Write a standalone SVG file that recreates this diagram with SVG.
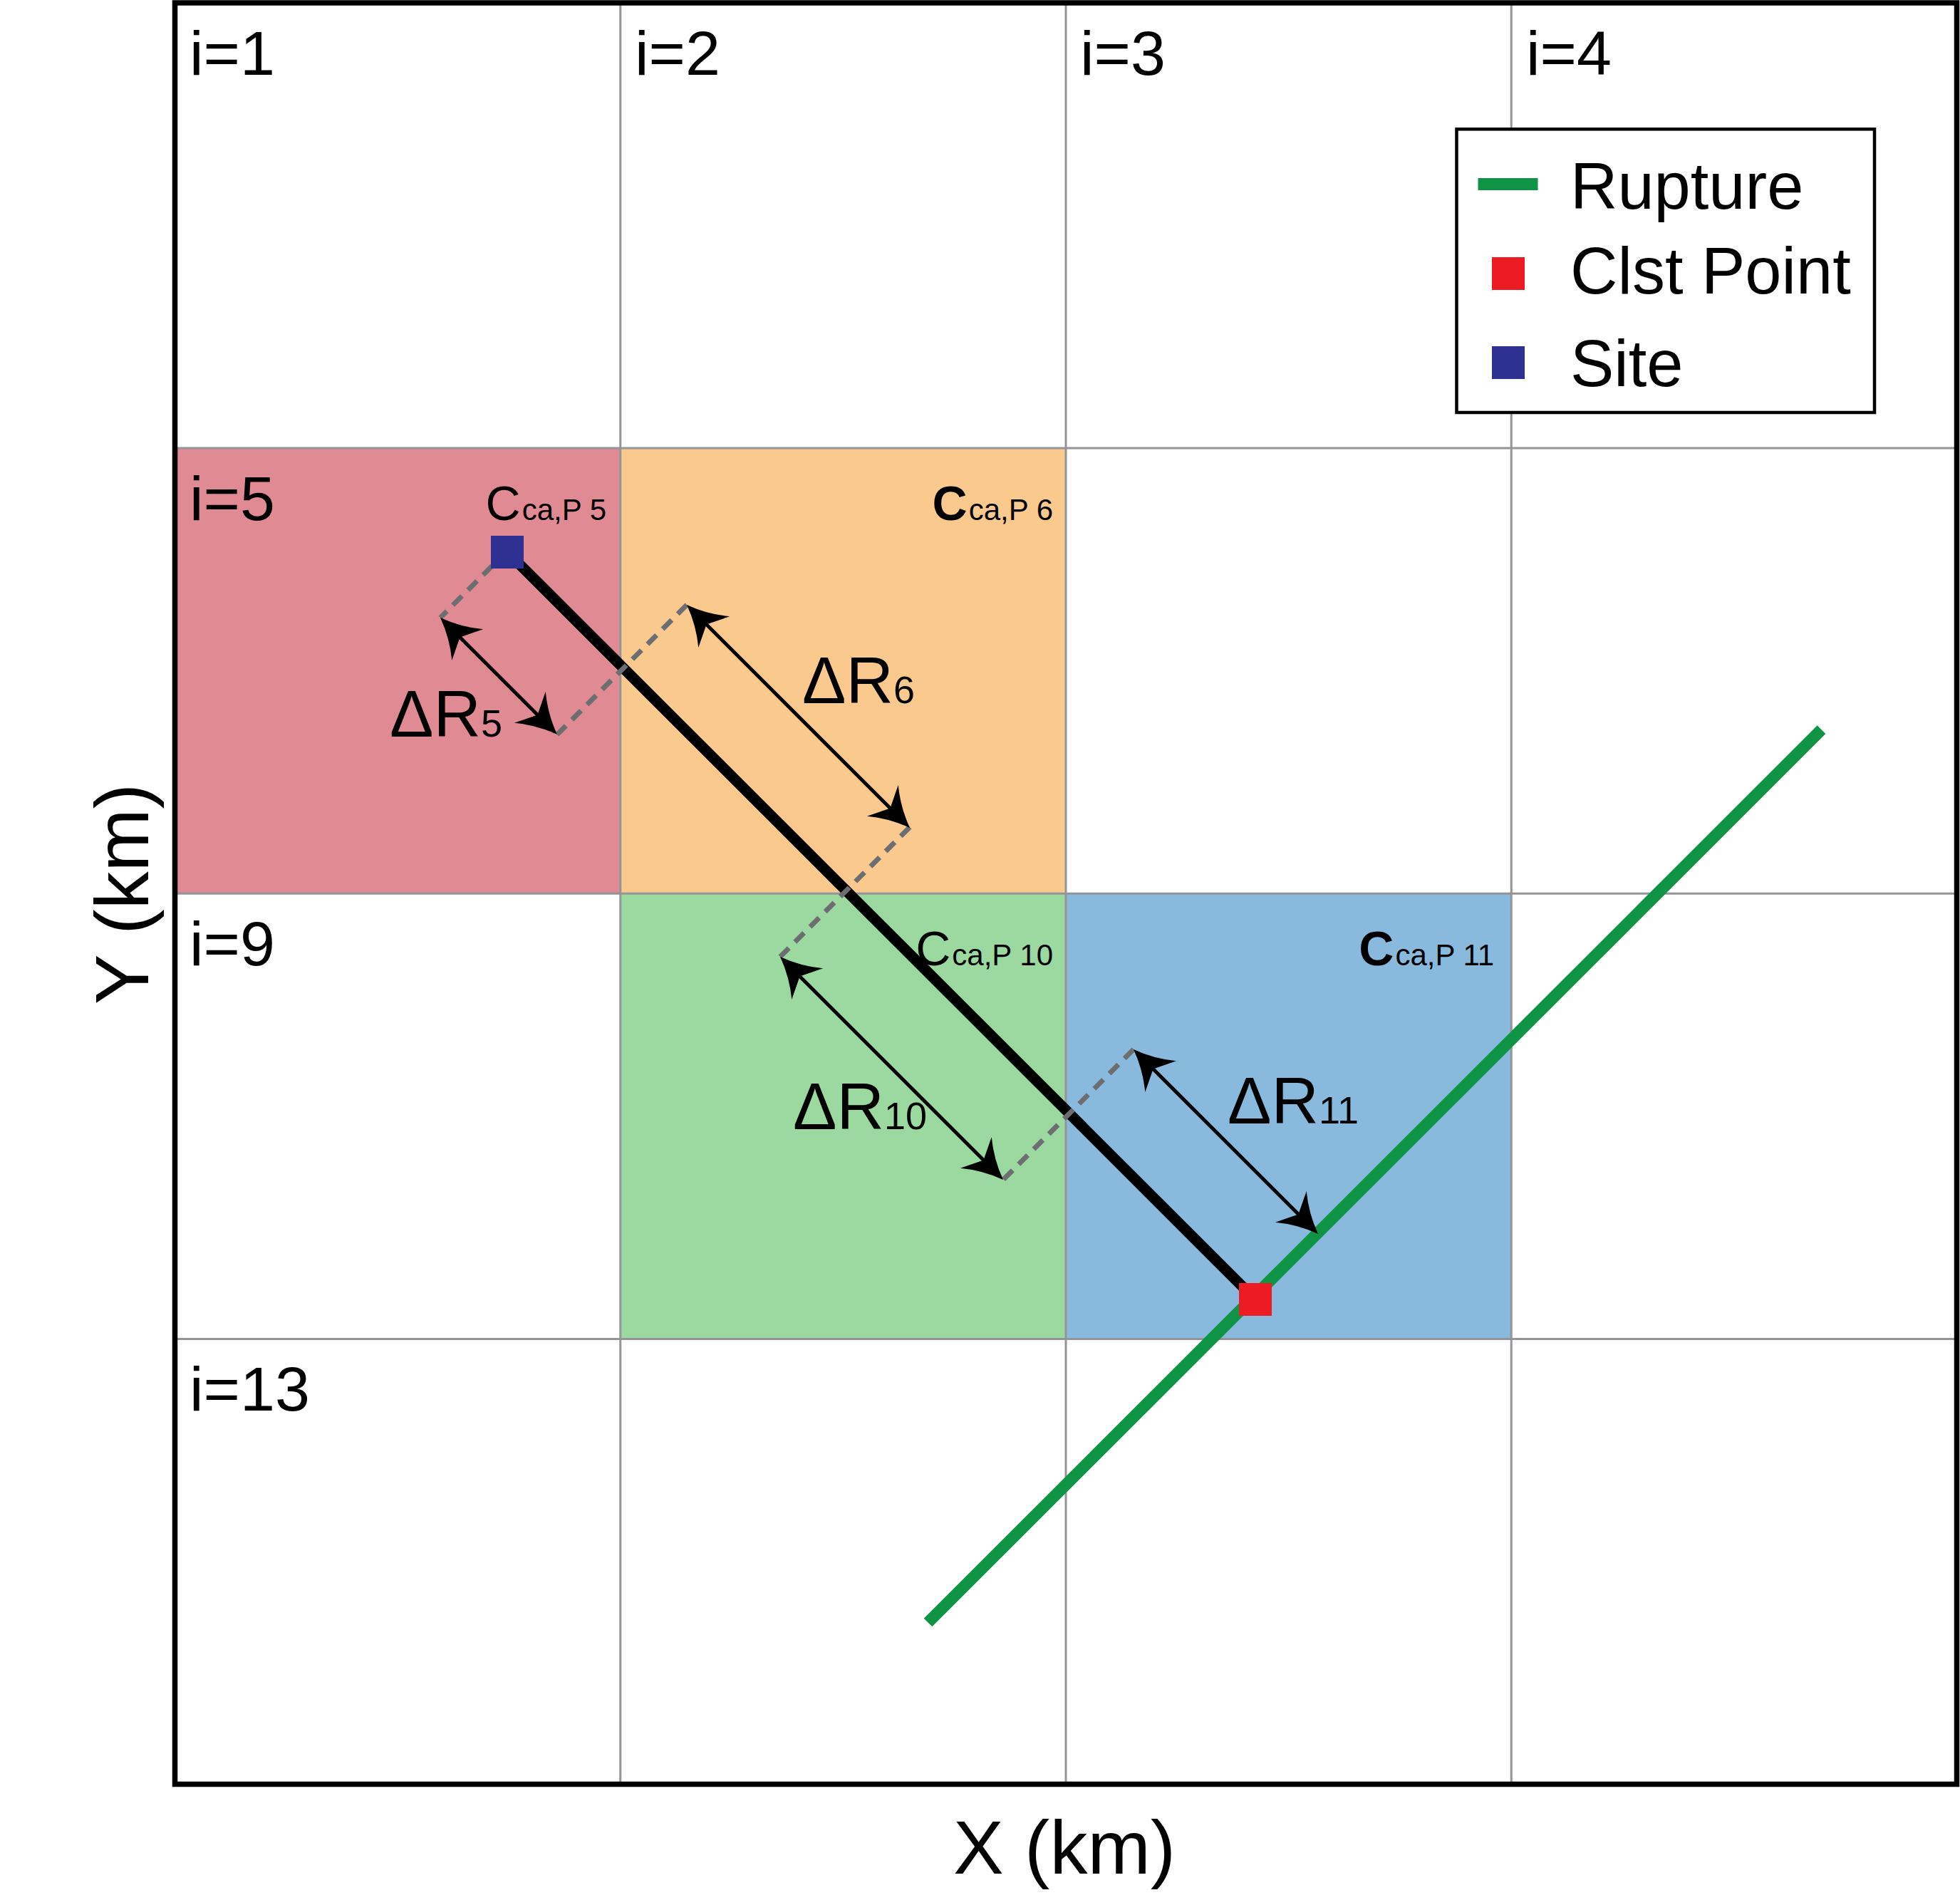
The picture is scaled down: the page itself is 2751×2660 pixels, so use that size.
<svg xmlns="http://www.w3.org/2000/svg" xmlns:xlink="http://www.w3.org/1999/xlink" width="2751" height="2660" viewBox="0 0 2751 2660">
<style>
text{font-family:"Liberation Sans",Arial,sans-serif;fill:#000}
.il{font-size:88px}
.lg{font-size:92px}
.ax{font-size:106px}
.cc{font-size:68px}
.cs{font-size:42px}
.dr{font-size:92px}
.ds{font-size:54px}
.grid{stroke:#939598;stroke-width:3;fill:none}
.dash{stroke:#6D6E71;stroke-width:7;stroke-dasharray:18 12;fill:none}
.shaft{stroke:#000;stroke-width:5;fill:none}
</style>
<defs>
<path id="ah" d="M0,0 Q-30,-11 -54,-31 L-39,0 L-54,31 Q-30,11 0,0 Z" fill="#000"/>
</defs>
<rect x="0" y="0" width="2751" height="2660" fill="#fff"/>
<g id="cells">
<rect id="cell5" x="245.5" y="629.1" width="625.25" height="625.15" fill="#E08A93"/>
<rect id="cell6" x="870.75" y="629.1" width="625.25" height="625.15" fill="#F9C98E"/>
<rect id="cell10" x="870.75" y="1254.25" width="625.25" height="625.15" fill="#9BD9A1"/>
<rect id="cell11" x="1496" y="1254.25" width="625.25" height="625.15" fill="#89B9DD"/>
</g>
<g id="grid" class="grid">
<line x1="870.75" y1="4" x2="870.75" y2="2504.5"/>
<line x1="1496" y1="4" x2="1496" y2="2504.5"/>
<line x1="2121.25" y1="4" x2="2121.25" y2="2504.5"/>
<line x1="245.5" y1="629.1" x2="2746.5" y2="629.1"/>
<line x1="245.5" y1="1254.25" x2="2746.5" y2="1254.25"/>
<line x1="245.5" y1="1879.4" x2="2746.5" y2="1879.4"/>
</g>
<rect id="frame" x="245.5" y="4" width="2501" height="2500.5" fill="none" stroke="#000" stroke-width="7.5"/>
<g id="cell-labels">
<text class="il" x="266" y="105">i=1</text>
<text class="il" x="891" y="105">i=2</text>
<text class="il" x="1516" y="105">i=3</text>
<text class="il" x="2142" y="105">i=4</text>
<text class="il" x="266" y="730">i=5</text>
<text class="il" x="266" y="1355">i=9</text>
<text class="il" x="266" y="1980">i=13</text>
</g>
<g id="legend">
<rect x="2044.5" y="181.3" width="586.5" height="397.7" fill="#fff" stroke="#000" stroke-width="4.5"/>
<line x1="2074.5" y1="258.5" x2="2158.5" y2="258.5" stroke="#0F9446" stroke-width="17"/>
<rect x="2094" y="361" width="46" height="46" fill="#ED1C24"/>
<rect x="2094" y="486" width="46" height="46" fill="#2E3192"/>
<text class="lg" x="2204" y="293">Rupture</text>
<text class="lg" x="2204" y="412">Clst Point</text>
<text class="lg" x="2204" y="542">Site</text>
</g>
<g id="connectors">
<line id="path-line" x1="712" y1="775" x2="1762" y2="1824" stroke="#000" stroke-width="15"/>
<line id="rupture" x1="1302.5" y1="2277.5" x2="2556.5" y2="1024.2" stroke="#0F9446" stroke-width="16.5"/>
<g class="dash">
<line x1="712" y1="773" x2="618" y2="867"/>
<line x1="964" y1="849" x2="782" y2="1031"/>
<line x1="1277" y1="1161" x2="1095" y2="1343"/>
<line x1="1591" y1="1473" x2="1408" y2="1656"/>
</g>
<g id="arrows">
<line class="shaft" x1="643.5" y1="892.5" x2="756.5" y2="1005.5"/>
<use xlink:href="#ah" transform="translate(618,867) rotate(225)"/>
<use xlink:href="#ah" transform="translate(782,1031) rotate(45)"/>
<line class="shaft" x1="989.5" y1="874.5" x2="1251.5" y2="1136.5"/>
<use xlink:href="#ah" transform="translate(964,849) rotate(225)"/>
<use xlink:href="#ah" transform="translate(1277,1162) rotate(45)"/>
<line class="shaft" x1="1120.5" y1="1368.5" x2="1382.5" y2="1630.5"/>
<use xlink:href="#ah" transform="translate(1095,1343) rotate(225)"/>
<use xlink:href="#ah" transform="translate(1408,1656) rotate(45)"/>
<line class="shaft" x1="1616.5" y1="1498.5" x2="1824.5" y2="1706.5"/>
<use xlink:href="#ah" transform="translate(1591,1473) rotate(225)"/>
<use xlink:href="#ah" transform="translate(1850,1732) rotate(45)"/>
</g>
</g>
<g id="site"><rect x="689" y="752" width="46" height="46" fill="#2E3192"/></g>
<g id="clst-point"><rect x="1739" y="1801" width="46" height="46" fill="#ED1C24"/></g>
<g id="c-labels">
<text text-anchor="end" x="851" y="730"><tspan class="cc">C</tspan><tspan class="cs" dx="2">ca,P 5</tspan></text>
<text text-anchor="end" x="1478" y="730" font-weight="bold"><tspan class="cc">C</tspan><tspan class="cs" dx="2" font-weight="normal">ca,P 6</tspan></text>
<text text-anchor="end" x="1478" y="1355"><tspan class="cc">C</tspan><tspan class="cs" dx="2">ca,P 10</tspan></text>
<text text-anchor="end" x="2097" y="1355" font-weight="bold"><tspan class="cc">C</tspan><tspan class="cs" dx="2" font-weight="normal">ca,P 11</tspan></text>
</g>
<g id="dr-labels">
<text x="547" y="1034"><tspan class="dr">ΔR</tspan><tspan class="ds">5</tspan></text>
<text x="1126" y="987"><tspan class="dr">ΔR</tspan><tspan class="ds">6</tspan></text>
<text x="1113" y="1585"><tspan class="dr">ΔR</tspan><tspan class="ds">10</tspan></text>
<text x="1723" y="1577"><tspan class="dr">ΔR</tspan><tspan class="ds">11</tspan></text>
</g>
<g id="axes">
<text class="ax" text-anchor="middle" x="1494" y="2630">X (km)</text>
<text class="ax" text-anchor="middle" transform="translate(208,1255) rotate(-90)">Y (km)</text>
</g>
</svg>
